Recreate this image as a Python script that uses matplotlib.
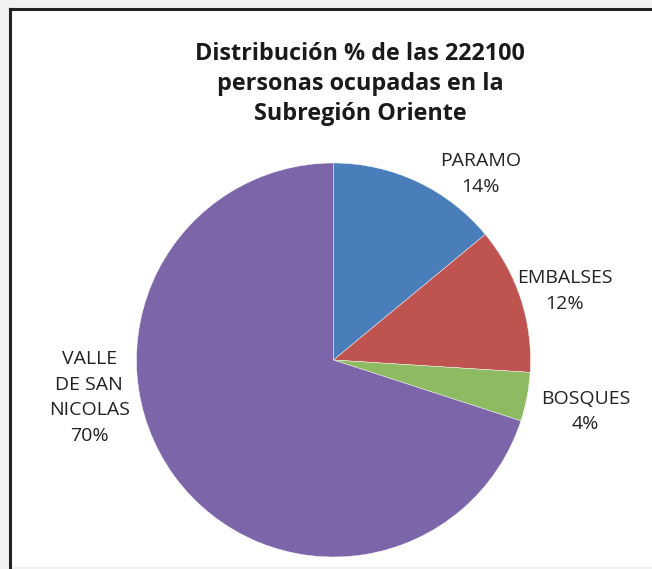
import matplotlib.pyplot as plt
from matplotlib.patches import Rectangle

plt.rcParams['font.family'] = ['Open Sans', 'DejaVu Sans']

title = 'Distribución % de las 222100\npersonas ocupadas en la\nSubregión Oriente'
zonas = ['PARAMO', 'EMBALSES', 'BOSQUES', 'VALLE\nDE SAN\nNICOLAS']
porcentajes = [14, 12, 4, 70]
colores = ['#4a7ebb', '#be5350', '#8ebb62', '#7c66a9']

W, H = 652, 569
fig = plt.figure(figsize=(W / 100, H / 100), dpi=100, facecolor='#f2f2f2')

# marco del grafico
fig.patches.append(Rectangle((10 / W, 2 / H), 1.0, (H - 12) / H, transform=fig.transFigure,
                             facecolor='white', edgecolor='none', zorder=-1))
fig.add_artist(plt.Line2D([10 / W, 10 / W], [2 / H, (H - 9) / H], transform=fig.transFigure,
                          color='#222222', lw=2.2))
fig.add_artist(plt.Line2D([10 / W, 1.0], [(H - 9) / H, (H - 9) / H], transform=fig.transFigure,
                          color='#222222', lw=2.2))

# circulo: centro (333.5, 360) px, radio 197 px
cx, cy, r = 333.5, 360, 197
ax = fig.add_axes([(cx - r) / W, (H - cy - r) / H, 2 * r / W, 2 * r / H])
ax.pie(porcentajes, colors=colores, startangle=90, counterclock=False, radius=1,
       wedgeprops=dict(linewidth=0.3, edgecolor='white'))
ax.set_xlim(-1, 1)
ax.set_ylim(-1, 1)
ax.set_aspect('equal')
ax.axis('off')

pos = [(0.745, 0.945), (1.175, 0.35), (1.28, -0.26), (-1.24, -0.19)]
for nombre, p, (x, y) in zip(zonas, porcentajes, pos):
    ax.text(x, y, f'{nombre}\n{p}%', ha='center', va='center', fontsize=14,
            color='#222222', linespacing=1.53)

fig.text(360 / W, 1 - 84 / H, title, ha='center', va='center', fontsize=16.8,
         fontweight='bold', color='#1a1a1a', linespacing=1.32)

fig.savefig('out.png', dpi=100, facecolor=fig.get_facecolor())
